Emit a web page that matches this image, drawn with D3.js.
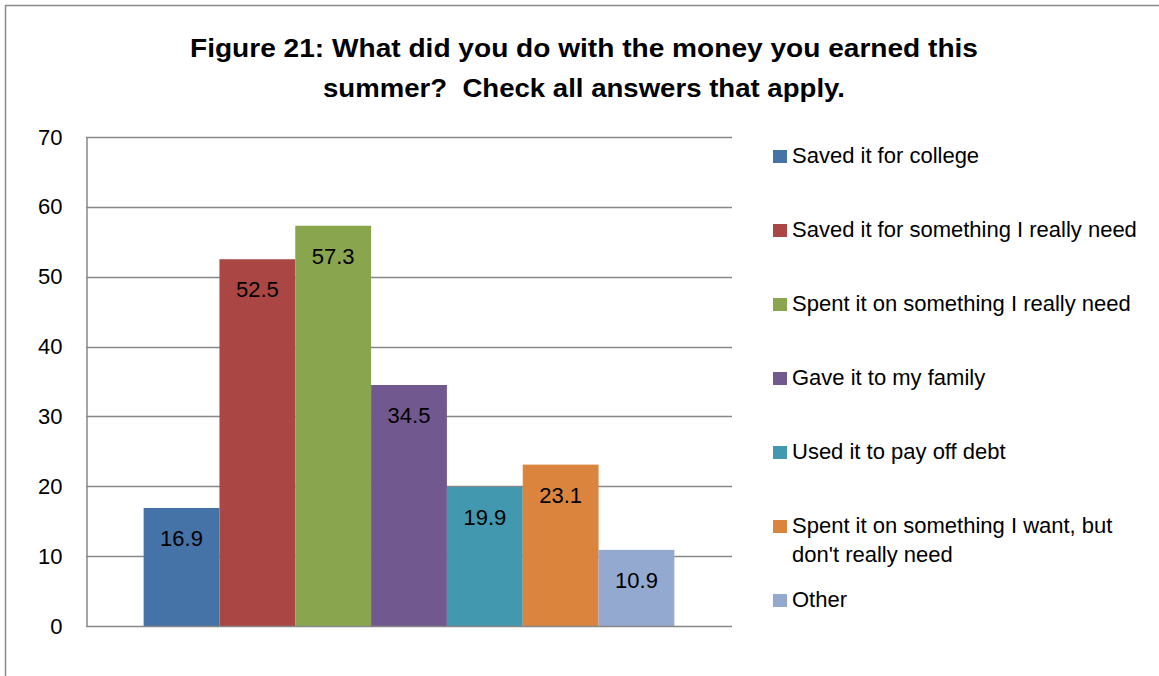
<!DOCTYPE html>
<html><head><meta charset="utf-8">
<script src="https://cdn.jsdelivr.net/npm/d3@7"></script>
<style>html,body{margin:0;padding:0;background:#fff;}svg{display:block;font-family:"Liberation Sans",Arial,sans-serif;}text{white-space:pre;}</style>
</head><body>
<svg id="chart" width="1159" height="676"></svg>
<script>
const titleLines = ["Figure 21: What did you do with the money you earned this", "summer?  Check all answers that apply."];
const titleWidths = [788, 522];
const seriesNames = ["Saved it for college", "Saved it for something I really need", "Spent it on something I really need", "Gave it to my family", "Used it to pay off debt", "Spent it on something I want, but don't really need", "Other"];
const legendLines = [["Saved it for college"], ["Saved it for something I really need"], ["Spent it on something I really need"], ["Gave it to my family"], ["Used it to pay off debt"], ["Spent it on something I want, but", "don't really need"], ["Other"]];
const values = [16.9, 52.5, 57.3, 34.5, 19.9, 23.1, 10.9];
const colors = ["#4572A7", "#AA4643", "#89A54E", "#71588F", "#4198AF", "#DB843D", "#93A9CF"];
const yTicks = [0, 10, 20, 30, 40, 50, 60, 70];

const svg = d3.select("#chart");
const plot = {left: 86, right: 732, top: 137, bottom: 626};

// outer border (top and left visible)
svg.append("path").attr("d", "M5.5,676 L5.5,5.5 L1159,5.5").attr("fill", "none").attr("stroke", "#8a8a8a").attr("stroke-width", 1.5);

// title
titleLines.forEach((l, i) => svg.append("text")
  .attr("x", 584).attr("y", 57 + i * 40)
  .attr("text-anchor", "middle").attr("font-weight", "bold").attr("font-size", 25).attr("fill", "#000")
  .attr("textLength", titleWidths[i]).attr("lengthAdjust", "spacingAndGlyphs")
  .text(l));

const y = d3.scaleLinear().domain([0, 70]).range([plot.bottom, plot.top]);
const x = d3.scaleBand().domain(seriesNames).range([plot.left, plot.right]).paddingInner(0).paddingOuter(0.76);

// gridlines
svg.append("g").selectAll("line").data(yTicks.filter(d => d > 0)).join("line")
  .attr("x1", plot.left).attr("x2", plot.right)
  .attr("y1", d => Math.round(y(d)) + 0.5).attr("y2", d => Math.round(y(d)) + 0.5)
  .attr("stroke", "#888").attr("stroke-width", 1.5);

// y axis
const yAxis = d3.axisLeft(y).tickValues(yTicks).tickSize(0).tickPadding(24);
const ya = svg.append("g").attr("transform", `translate(${plot.left + 0.5},0)`).call(yAxis);
ya.select(".domain").attr("stroke", "#888").attr("stroke-width", 1.5);
ya.selectAll("text").attr("font-size", 22).attr("font-family", "'Liberation Sans',Arial,sans-serif").attr("fill", "#000");

// bars
svg.append("g").selectAll("rect").data(values).join("rect")
  .attr("x", (d, i) => x(seriesNames[i]))
  .attr("width", x.bandwidth())
  .attr("y", d => y(d))
  .attr("height", d => y(0) - y(d))
  .attr("fill", (d, i) => colors[i]);

// x axis line
svg.append("line").attr("x1", plot.left).attr("x2", plot.right).attr("y1", plot.bottom + 0.5).attr("y2", plot.bottom + 0.5)
  .attr("stroke", "#888").attr("stroke-width", 1.5);

// data labels
svg.append("g").selectAll("text").data(values).join("text")
  .attr("x", (d, i) => x(seriesNames[i]) + x.bandwidth() / 2)
  .attr("y", d => y(d) + 38)
  .attr("text-anchor", "middle").attr("font-size", 22).attr("fill", "#000")
  .text(d => d.toFixed(1));

// legend
const lg = svg.append("g");
legendLines.forEach((lines, i) => {
  const by = 163 + i * 74;
  lg.append("rect").attr("x", 773).attr("y", by - 13).attr("width", 14).attr("height", 13).attr("fill", colors[i]);
  const t = lg.append("text").attr("font-size", 22).attr("fill", "#000");
  lines.forEach((l, j) => t.append("tspan").attr("x", 792).attr("y", by + j * 29).text(l));
});
</script>
</body></html>
